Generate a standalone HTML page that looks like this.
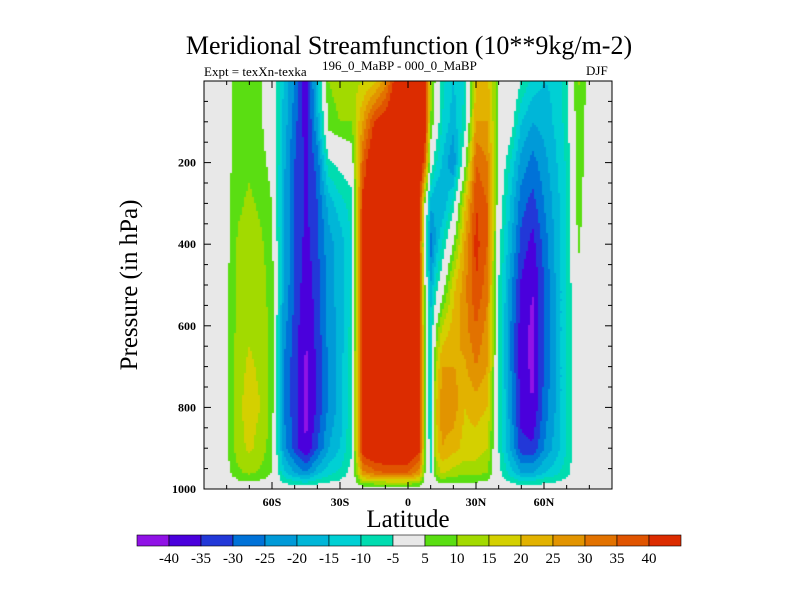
<!DOCTYPE html>
<html><head><meta charset="utf-8">
<style>
body{margin:0;background:#fff;width:800px;height:600px;overflow:hidden;position:relative;font-family:"Liberation Serif",serif;}
.t{position:absolute;white-space:nowrap;color:#000;}
</style></head><body>
<div class="t" style="left:0;width:818px;text-align:center;top:31px;font-size:26px;line-height:30px;">Meridional Streamfunction (10**9kg/m-2)</div>
<div class="t" style="left:204px;top:64px;font-size:13px;">Expt = texXn-texka</div>
<div class="t" style="left:322px;top:58px;font-size:13px;">196_0_MaBP - 000_0_MaBP</div>
<div class="t" style="left:586px;top:63px;font-size:13px;">DJF</div>
<div class="t" style="left:130px;top:285px;font-size:25px;transform:translate(-50%,-50%) rotate(-90deg);">Pressure (in hPa)</div>
<div class="t" style="left:408px;top:506px;font-size:25px;transform:translateX(-50%);">Latitude</div>
<canvas id="cv" width="408" height="408" style="position:absolute;left:204px;top:81px;"></canvas>
<svg id="ax" width="800" height="600" style="position:absolute;left:0;top:0;"></svg>
<script>
const lats=[-90,-85,-80,-75,-70,-65,-60,-55,-50,-45,-40,-35,-30,-25,-20,-15,-10,-5,0,5,7.5,10,12.5,15,20,25,30,35,40,45,50,55,60,65,70,75,80,85,90];
const levels=[0,100,200,300,400,500,600,700,800,900,960,1000];
const values=[
[0,0,0,0,0,0,0,0,0,0,0,0],
[0,0,0,0,0,0,0,0,0,0,0,0],
[3,3,3,3,3,4,4,4,4,4,3,0],
[7,7,8,9,11,11,12,13,14,13,9,0],
[8,8,9,11,12,13,14,16,17,16,11,0],
[6,6,7,9,11,12,13,14,15,13,9,0],
[0,0,3,5,7,8,8,8,8,7,5,0],
[-15,-16,-18,-20,-20,-20,-22,-25,-25,-22,-13,0],
[-25,-28,-30,-30,-30,-30,-32,-33,-33,-32,-20,0],
[-40,-38,-36,-36,-37,-39,-40,-41,-42,-40,-25,0],
[-15,-20,-28,-30,-31,-32,-33,-34,-34,-30,-17,0],
[10,8,-6,-18,-22,-22,-23,-24,-24,-20,-12,0],
[12,10,-3,-12,-18,-18,-18,-18,-18,-15,-9,0],
[13,10,0,-8,-10,-10,-8,-6,-6,-6,-3,0],
[15,25,35,42,45,45,45,45,45,45,28,0],
[18,40,50,50,50,50,50,50,50,50,33,0],
[28,45,50,50,50,50,50,50,50,50,35,0],
[45,50,50,50,50,50,50,50,50,50,35,0],
[50,50,50,50,50,50,50,50,50,50,35,0],
[50,50,50,45,42,42,42,42,42,42,28,0],
[45,45,35,5,0,5,8,8,8,8,5,0],
[12,10,0,-18,-28,-20,-12,-12,-12,-10,-6,0],
[3,0,-10,-20,-18,-8,5,15,20,18,11,0],
[-8,-10,-15,-20,-10,0,15,25,28,25,16,0],
[-15,-18,-25,-8,5,18,22,25,28,22,13,0],
[-10,-8,2,18,25,28,28,24,20,18,12,0],
[20,25,35,40,42,40,35,30,22,18,12,0],
[22,25,30,35,35,32,28,25,20,15,10,0],
[5,5,3,0,-3,-5,-5,-5,-5,-5,-3,0],
[3,0,-10,-15,-18,-22,-24,-24,-22,-20,-12,0],
[-5,-15,-22,-28,-32,-36,-38,-38,-38,-33,-20,0],
[-12,-20,-27,-32,-37,-40,-41,-41,-40,-34,-20,0],
[-15,-18,-22,-25,-28,-30,-30,-30,-28,-25,-15,0],
[-14,-14,-16,-18,-19,-20,-20,-20,-20,-18,-12,0],
[-7,-8,-9,-10,-10,-10,-10,-10,-10,-10,-7,0],
[11,9,8,7,6,3,0,0,0,0,0,0],
[2,2,2,1,1,0,0,0,0,0,0,0],
[0,0,0,0,0,0,0,0,0,0,0,0],
[0,0,0,0,0,0,0,0,0,0,0,0]];
const bounds=[-40,-35,-30,-25,-20,-15,-10,-5,5,10,15,20,25,30,35,40];
const colors=["#9012e6","#4a00dc","#2238d8","#0072d8","#009ad8","#00b6d8","#00d0d4","#00dcb0","#e8e8e8","#5ade12","#a2da00","#d4d000","#e2b200","#e29400","#e27200","#e05400","#dc2c00"];
const xTicks=[-60,-30,0,30,60];
const xTickLabels=["60S","30S","0","30N","60N"];
const yTicks=[200,400,600,800,1000];
const cbLabels=["-40","-35","-30","-25","-20","-15","-10","-5","5","10","15","20","25","30","35","40"];
const X0=204,X1=612,Y0=81,Y1=489;
const xs=l=>X0+(l+90)/180*(X1-X0);
const ys=p=>Y0+p/1000*(Y1-Y0);
function seg(arr,v){let i=0;while(i<arr.length-2&&v>arr[i+1])i++;return [i,(v-arr[i])/(arr[i+1]-arr[i])];}
function val(lat,p){const [i,fx]=seg(lats,lat),[j,fy]=seg(levels,p);
const a=values[i][j],b=values[i+1][j],c=values[i][j+1],d=values[i+1][j+1];
return a*(1-fx)*(1-fy)+b*fx*(1-fy)+c*(1-fx)*fy+d*fx*fy;}
function colorOf(v){let k=0;while(k<bounds.length&&v>=bounds[k])k++;return colors[k];}
const cv=document.getElementById('cv');const ctx=cv.getContext('2d');
for(let py=0;py<408;py+=2){for(let px=0;px<408;px+=2){
const lat=(px+1)/408*180-90,p=(py+1)/408*1000;
ctx.fillStyle=colorOf(val(lat,p));ctx.fillRect(px,py,2,2);}}
const NS='http://www.w3.org/2000/svg';const svg=document.getElementById('ax');
function mk(t,a,parent){const e=document.createElementNS(NS,t);for(const k in a)e.setAttribute(k,a[k]);(parent||svg).appendChild(e);return e;}
const fr=mk('rect',{x:X0,y:Y0,width:X1-X0,height:Y1-Y0,fill:'none',stroke:'#000','stroke-width':1});


for(let l=-80;l<=80;l+=10){const x=xs(l),L=(l%30===0)?7:4;
const t1=mk('line',{x1:x,y1:Y1,x2:x,y2:Y1-L,stroke:'#000'});


mk('line',{x1:x,y1:Y0,x2:x,y2:Y0+L,stroke:'#000'});}
for(let p=50;p<=1000;p+=50){const y=ys(p),L=(p%200===0)?7:4;
const t2=mk('line',{x1:X0,y1:y,x2:X0+L,y2:y,stroke:'#000'});


mk('line',{x1:X1,y1:y,x2:X1-L,y2:y,stroke:'#000'});}
xTicks.forEach((l,i)=>{const t=mk('text',{x:xs(l),y:Y1+17,'text-anchor':'middle','font-size':12,'font-weight':'bold','font-family':'Liberation Serif,serif'});t.textContent=xTickLabels[i];

});
yTicks.forEach(p=>{const t=mk('text',{x:X0-8,y:ys(p)+4,'text-anchor':'end','font-size':12,'font-weight':'bold','font-family':'Liberation Serif,serif'});t.textContent=p;

});
const CB0=137,CB1=681,CBY=535,CBH=11,bw=(CB1-CB0)/colors.length;
colors.forEach((c,i)=>{const r=mk('rect',{x:CB0+i*bw,y:CBY,width:bw,height:CBH,fill:c,stroke:'#000','stroke-width':0.6});

});
cbLabels.forEach((s,i)=>{const t=mk('text',{x:CB0+(i+1)*bw,y:563,'text-anchor':'middle','font-size':15,'font-family':'Liberation Serif,serif'});t.textContent=s;

});
</script>
</body></html>
